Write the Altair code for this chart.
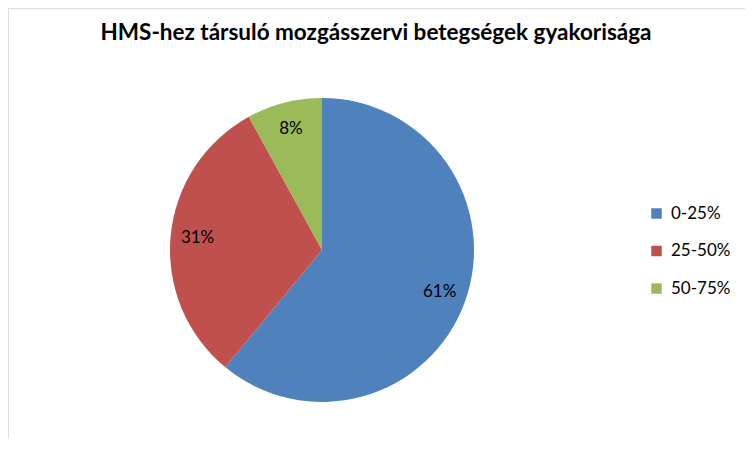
import altair as alt
import pandas as pd

categories = ["0-25%", "25-50%", "50-75%"]
values = [61, 31, 8]
labels = ["61%", "31%", "8%"]
colors = ["#4F81BD", "#C0504D", "#9BBB59"]
title_text = "HMS-hez társuló mozgásszervi betegségek gyakorisága"

df = pd.DataFrame({"cat": categories, "value": values, "label": labels, "order": [0, 1, 2]})

FONT = "Lato"
W, H = 737, 431
CX, CY = 314, 242

base = alt.Chart(df).encode(
    theta=alt.Theta("value:Q", stack=True),
    order=alt.Order("order:Q"),
)

pie = base.mark_arc(outerRadius=152).encode(
    x=alt.value(CX),
    y=alt.value(CY),
    color=alt.Color(
        "cat:N",
        scale=alt.Scale(domain=categories, range=colors),
        legend=alt.Legend(
            title=None,
            orient="none",
            legendX=640,
            legendY=197,
            symbolType="square",
            symbolSize=110,
            symbolStrokeWidth=0,
            labelFontSize=17,
            labelFont=FONT,
            labelColor="#000000",
            labelOffset=6,
            rowPadding=19.5,
            padding=0,
        ),
    ),
)

text = base.mark_text(radius=125, fontSize=17, font=FONT, color="#000000", baseline="middle").encode(
    x=alt.value(CX),
    y=alt.value(CY),
    text="label:N",
)

title_df = pd.DataFrame({"t": [title_text]})
title = alt.Chart(title_df).mark_text(
    font=FONT, fontSize=22.5, fontWeight="bold", color="#000000", baseline="alphabetic", align="center"
).encode(x=alt.value(368), y=alt.value(32), text="t:N")

chart = alt.layer(pie, text, title).properties(
    width=W, height=H, padding=0, autosize=alt.AutoSizeParams(type="none")
).configure_view(stroke="#808080", strokeWidth=3).configure(background="white")

chart.save("out.html", embed_options={"renderer": "svg", "actions": False})
